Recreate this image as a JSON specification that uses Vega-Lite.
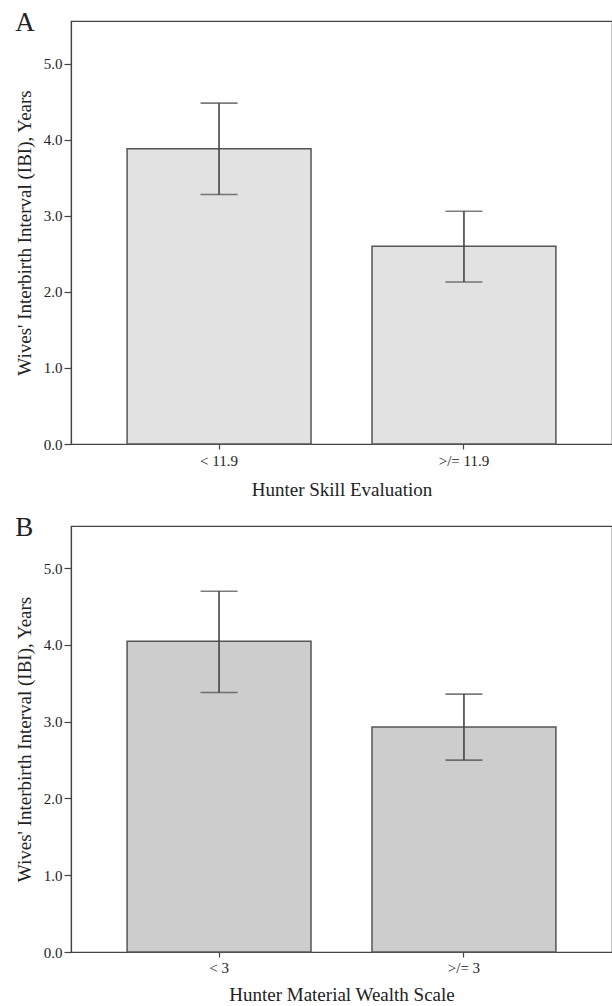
{
  "$schema": "https://vega.github.io/schema/vega-lite/v6.json",
  "background": "white",
  "padding": {"left": 14, "top": 8, "right": 0, "bottom": 0},
  "config": {
    "font": "Liberation Serif",
    "view": {"stroke": "#444", "strokeWidth": 1.2},
    "axis": {
      "labelFont": "Liberation Serif",
      "labelFontSize": 15,
      "labelColor": "#222",
      "titleFont": "Liberation Serif",
      "titleFontSize": 19,
      "titleFontWeight": "normal",
      "titleColor": "#222",
      "domainColor": "#444",
      "domainWidth": 1.2,
      "tickColor": "#444",
      "tickWidth": 1.2,
      "grid": false
    },
    "title": {"font": "Liberation Serif", "fontSize": 27, "fontWeight": "normal", "color": "#222", "anchor": "start", "frame": "bounds", "baseline": "alphabetic", "offset": -16}
  },
  "data": {
    "values": [
      {"panel": "A", "group": "< 11.9", "mean": 3.88, "lo": 3.28, "hi": 4.48},
      {"panel": "A", "group": ">/= 11.9", "mean": 2.6, "lo": 2.13, "hi": 3.06},
      {"panel": "B", "group": "< 3", "mean": 4.05, "lo": 3.38, "hi": 4.7},
      {"panel": "B", "group": ">/= 3", "mean": 2.93, "lo": 2.5, "hi": 3.36}
    ]
  },
  "bounds": "flush",
  "spacing": 82,
  "vconcat": [
    {
      "title": {"text": "A"},
      "width": 541,
      "height": 423,
      "transform": [{"filter": "datum.panel == 'A'"}],
      "encoding": {
        "x": {
          "field": "group", "type": "nominal", "sort": null,
          "scale": {"paddingInner": 0.249, "paddingOuter": 0.229},
          "axis": {"title": "Hunter Skill Evaluation", "labelAngle": 0, "tickSize": 5, "labelPadding": 4, "titlePadding": 12}
        }
      },
      "layer": [
        {
          "mark": {"type": "bar", "fill": "#e2e2e2", "stroke": "#555", "strokeWidth": 1.5},
          "encoding": {
            "y": {"field": "mean", "type": "quantitative", "title": "Wives' Interbirth Interval (IBI), Years",
              "scale": {"domain": [0, 5.56], "nice": false, "zero": true},
              "axis": {"values": [0, 1, 2, 3, 4, 5], "format": ".1f", "tickSize": 7, "labelPadding": 2, "titlePadding": 9}}
          }
        },
        {
          "mark": {"type": "rule", "color": "#444", "strokeWidth": 1.6},
          "encoding": {
            "y": {"field": "lo", "type": "quantitative", "title": "Wives' Interbirth Interval (IBI), Years"},
            "y2": {"field": "hi"}
          }
        },
        {
          "mark": {"type": "tick", "color": "#444", "size": 37, "thickness": 1.6},
          "encoding": {"y": {"field": "lo", "type": "quantitative", "title": "Wives' Interbirth Interval (IBI), Years"}}
        },
        {
          "mark": {"type": "tick", "color": "#444", "size": 37, "thickness": 1.6},
          "encoding": {"y": {"field": "hi", "type": "quantitative", "title": "Wives' Interbirth Interval (IBI), Years"}}
        }
      ]
    },
    {
      "title": {"text": "B"},
      "width": 541,
      "height": 426,
      "transform": [{"filter": "datum.panel == 'B'"}],
      "encoding": {
        "x": {
          "field": "group", "type": "nominal", "sort": null,
          "scale": {"paddingInner": 0.249, "paddingOuter": 0.229},
          "axis": {"title": "Hunter Material Wealth Scale", "labelAngle": 0, "tickSize": 5, "labelPadding": 3, "titlePadding": 10}
        }
      },
      "layer": [
        {
          "mark": {"type": "bar", "fill": "#cdcdcd", "stroke": "#555", "strokeWidth": 1.5},
          "encoding": {
            "y": {"field": "mean", "type": "quantitative", "title": "Wives' Interbirth Interval (IBI), Years",
              "scale": {"domain": [0, 5.55], "nice": false, "zero": true},
              "axis": {"values": [0, 1, 2, 3, 4, 5], "format": ".1f", "tickSize": 7, "labelPadding": 2, "titlePadding": 9}}
          }
        },
        {
          "mark": {"type": "rule", "color": "#444", "strokeWidth": 1.6},
          "encoding": {
            "y": {"field": "lo", "type": "quantitative", "title": "Wives' Interbirth Interval (IBI), Years"},
            "y2": {"field": "hi"}
          }
        },
        {
          "mark": {"type": "tick", "color": "#444", "size": 37, "thickness": 1.6},
          "encoding": {"y": {"field": "lo", "type": "quantitative", "title": "Wives' Interbirth Interval (IBI), Years"}}
        },
        {
          "mark": {"type": "tick", "color": "#444", "size": 37, "thickness": 1.6},
          "encoding": {"y": {"field": "hi", "type": "quantitative", "title": "Wives' Interbirth Interval (IBI), Years"}}
        }
      ]
    }
  ]
}
